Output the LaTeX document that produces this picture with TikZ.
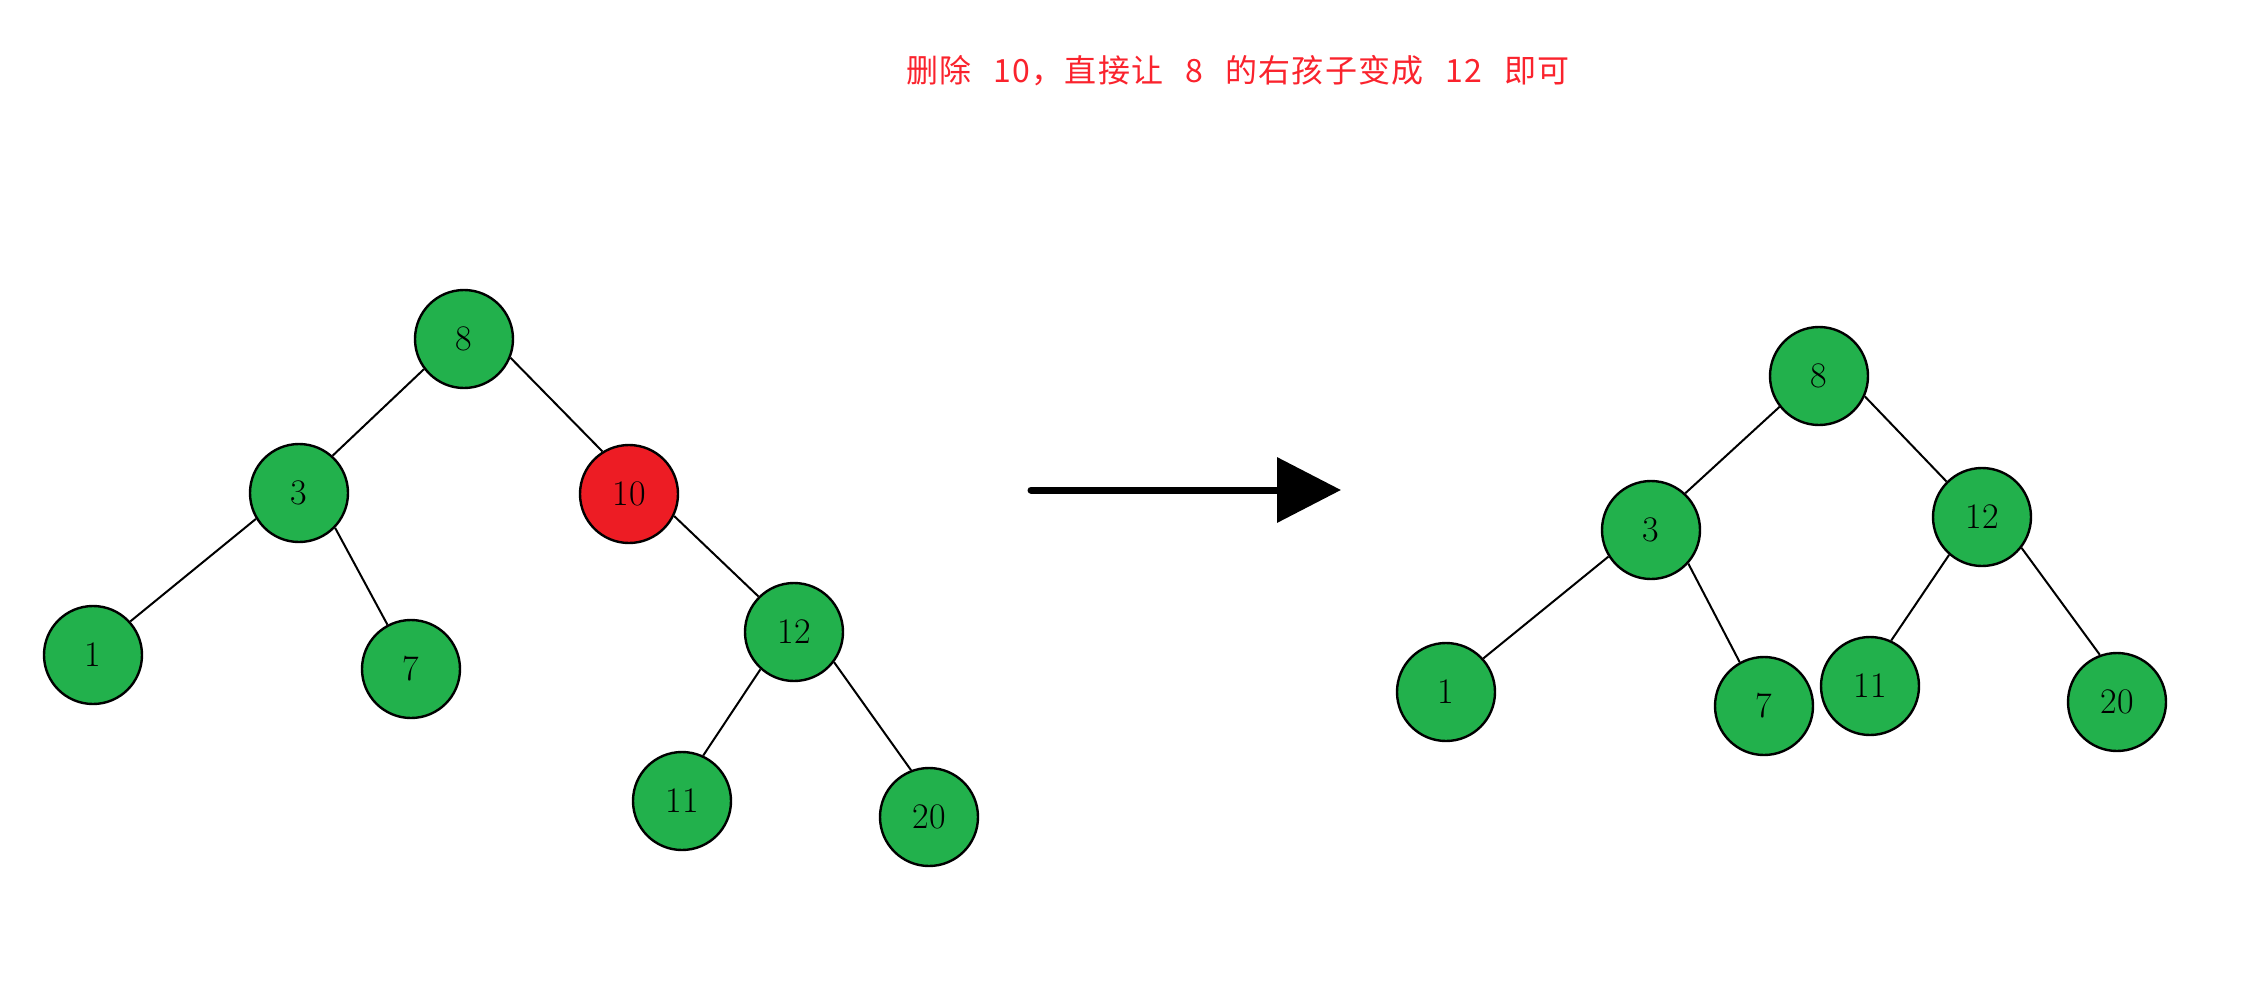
\documentclass[tikz,border=0pt]{standalone}
\usepackage{fontspec}
\newfontfamily\cjk[LetterSpace = 4, WordSpace = 2.6]{Noto Sans CJK SC}
\usetikzlibrary{arrows.meta}
\definecolor{treegreen}{RGB}{34, 177, 76}
\definecolor{treered}{RGB}{237, 28, 36}
\definecolor{titlered}{RGB}{250, 35, 45}

\begin{document}
\begin{tikzpicture}[x = 1pt, y = -1pt,
  tnode/.style = {circle, draw = black, line width = 2.4pt, fill = treegreen, minimum size = 98pt, inner sep = 0pt, font = \fontsize{36}{40}\selectfont},
  delnode/.style = {tnode, fill = treered},
  tedge/.style = {line width = 2pt, black}]
\useasboundingbox (0, 0) rectangle (2241, 983);
\node[text = titlered, font = \cjk\fontsize{32}{36}\selectfont] (title) at (1238, 71) {删除 10，直接让 8 的右孩子变成 12 即可};
\node[tnode] (a8) at (464, 339) {8};
\node[tnode] (a3) at (299, 493) {3};
\node[delnode] (a10) at (629, 494) {10};
\node[tnode] (a1) at (93, 655) {1};
\node[tnode] (a7) at (411, 669) {7};
\node[tnode] (a12) at (794, 632) {12};
\node[tnode] (a11) at (682, 801) {11};
\node[tnode] (a20) at (929, 817) {20};
\draw[tedge] (a8.217)--(a3.48);
\draw[tedge] (a8.338)--(a10.122);
\draw[tedge] (a3.211)--(a1.42);
\draw[tedge] (a3.316)--(a7.118);
\draw[tedge] (a10.334)--(a12.135);
\draw[tedge] (a12.228)--(a11.65);
\draw[tedge] (a12.323)--(a20.111);
\coordinate (arrowstart) at (1031, 490);
\coordinate (arrowend) at (1341, 490);
\draw[line width = 7pt, line cap = round, -{Triangle[length = 64pt, width = 64pt]}] (arrowstart)--(arrowend);
\node[tnode] (b8) at (1819, 376) {8};
\node[tnode] (b3) at (1651, 530) {3};
\node[tnode] (b12) at (1982, 517) {12};
\node[tnode] (b1) at (1446, 692) {1};
\node[tnode] (b7) at (1764, 706) {7};
\node[tnode] (b11) at (1870, 686) {11};
\node[tnode] (b20) at (2117, 702) {20};
\draw[tedge] (b8.218)--(b3.47);
\draw[tedge] (b8.336)--(b12.135);
\draw[tedge] (b3.212)--(b1.42);
\draw[tedge] (b3.318)--(b7.119);
\draw[tedge] (b12.229)--(b11.65);
\draw[tedge] (b12.322)--(b20.110);
\end{tikzpicture}
\end{document}
